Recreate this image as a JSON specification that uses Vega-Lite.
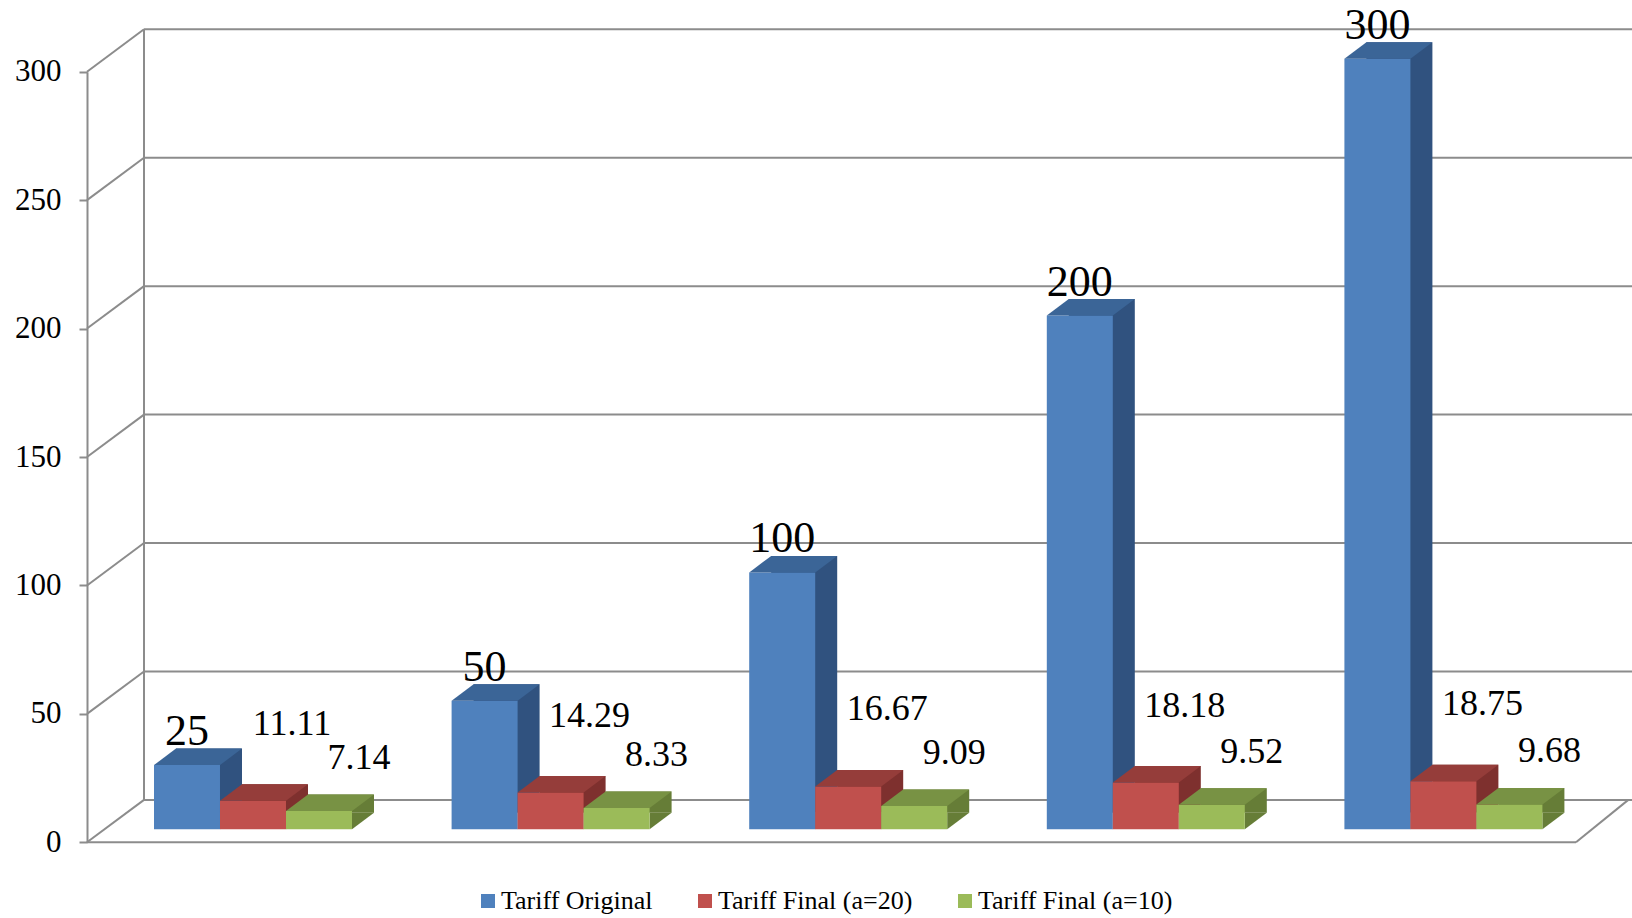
{
  "$schema": "https://vega.github.io/schema/vega-lite/v6.json",
  "width": 1545,
  "height": 918,
  "autosize": {"type": "none"},
  "padding": {"left": 87, "top": 0, "right": 0, "bottom": 0},
  "background": "white",
  "config": {"view": {"stroke": null}, "font": "Liberation Serif"},
  "datasets": {
    "tariffs": [
      {"case": 1, "series": "Tariff Original", "value": 25},
      {"case": 1, "series": "Tariff Final (a=20)", "value": 11.11},
      {"case": 1, "series": "Tariff Final (a=10)", "value": 7.14},
      {"case": 2, "series": "Tariff Original", "value": 50},
      {"case": 2, "series": "Tariff Final (a=20)", "value": 14.29},
      {"case": 2, "series": "Tariff Final (a=10)", "value": 8.33},
      {"case": 3, "series": "Tariff Original", "value": 100},
      {"case": 3, "series": "Tariff Final (a=20)", "value": 16.67},
      {"case": 3, "series": "Tariff Final (a=10)", "value": 9.09},
      {"case": 4, "series": "Tariff Original", "value": 200},
      {"case": 4, "series": "Tariff Final (a=20)", "value": 18.18},
      {"case": 4, "series": "Tariff Final (a=10)", "value": 9.52},
      {"case": 5, "series": "Tariff Original", "value": 300},
      {"case": 5, "series": "Tariff Final (a=20)", "value": 18.75},
      {"case": 5, "series": "Tariff Final (a=10)", "value": 9.68}
    ],
    "ticks": [
      {"tick": 0}, {"tick": 50}, {"tick": 100}, {"tick": 150},
      {"tick": 200}, {"tick": 250}, {"tick": 300}
    ],
    "one": [{}]
  },
  "layer": [
    {
      "data": {"name": "ticks"},
      "mark": {"type": "rule", "x": 57, "x2": "width", "yOffset": -42.4, "color": "#8c8c8c", "strokeWidth": 2},
      "encoding": {
        "y": {
          "field": "tick",
          "type": "quantitative",
          "scale": {"domain": [0, 300], "range": [842.3, 71.7], "nice": false, "zero": true},
          "axis": {
            "title": null,
            "values": [0, 50, 100, 150, 200, 250, 300],
            "grid": false,
            "tickSize": 8,
            "tickWidth": 2,
            "tickColor": "#8c8c8c",
            "domainColor": "#8c8c8c",
            "domainWidth": 2,
            "labelFont": "Liberation Serif",
            "labelFontSize": 31,
            "labelColor": "#000000",
            "labelPadding": 18
          }
        }
      }
    },
    {
      "data": {"name": "ticks"},
      "mark": {"type": "rule", "y2Offset": -42.4, "color": "#8c8c8c", "strokeWidth": 2},
      "encoding": {
        "x": {"value": 0},
        "x2": {"value": 57},
        "y": {"field": "tick", "type": "quantitative", "axis": {"title": null}},
        "y2": {"field": "tick"}
      }
    },
    {
      "data": {"name": "one"},
      "mark": {"type": "rule", "x": 57, "yOffset": -42.4, "y2Offset": -42.4, "color": "#8c8c8c", "strokeWidth": 2},
      "encoding": {
        "y": {"datum": 0, "type": "quantitative"},
        "y2": {"datum": 300}
      }
    },
    {
      "data": {"name": "one"},
      "mark": {"type": "rule", "x": 0, "x2": 1489, "color": "#8c8c8c", "strokeWidth": 2},
      "encoding": {
        "y": {"datum": 0, "type": "quantitative"}
      }
    },
    {
      "data": {"name": "one"},
      "mark": {"type": "rule", "y2Offset": -42.4, "color": "#8c8c8c", "strokeWidth": 2},
      "encoding": {
        "x": {"value": 1489},
        "x2": {"value": 1541.3},
        "y": {"datum": 0, "type": "quantitative"},
        "y2": {"datum": 0}
      }
    },
    {
      "data": {"name": "tariffs"},
      "mark": {"type": "bar", "yOffset": -29.5, "y2Offset": -29.5},
      "encoding": {
        "x": {"field": "case", "type": "nominal", "scale": {"range": [67, 1455.4], "paddingInner": 0.3347, "paddingOuter": 0}, "axis": null},
        "xOffset": {"field": "series", "type": "nominal", "scale": {"type": "band", "domain": ["Tariff Original", "Tariff Final (a=20)", "Tariff Final (a=10)"], "range": [22, 220], "paddingInner": 0, "paddingOuter": 0}},
        "y": {"field": "value", "type": "quantitative", "axis": {"title": null}},
        "color": {"field": "series", "type": "nominal", "scale": {"domain": ["Tariff Original", "Tariff Final (a=20)", "Tariff Final (a=10)"], "range": ["#30527f", "#7e302e", "#667d37"]}, "legend": null}
      }
    },
    {
      "data": {"name": "tariffs"},
      "mark": {"type": "point", "shape": "M33,0L33,-16.5L55,-16.5Z", "size": 4, "filled": true, "opacity": 1, "strokeWidth": 0, "yOffset": -13},
      "encoding": {
        "x": {"field": "case", "type": "nominal", "axis": null},
        "xOffset": {"field": "series", "type": "nominal", "scale": {"type": "band", "domain": ["Tariff Original", "Tariff Final (a=20)", "Tariff Final (a=10)"], "paddingInner": 0, "paddingOuter": 0}},
        "y": {"datum": 0, "type": "quantitative"},
        "color": {"field": "series", "type": "nominal", "scale": {"domain": ["Tariff Original", "Tariff Final (a=20)", "Tariff Final (a=10)"], "range": ["#30527f", "#7e302e", "#667d37"]}, "legend": null}
      }
    },
    {
      "data": {"name": "tariffs"},
      "mark": {"type": "bar", "yOffset": -13, "y2Offset": -13},
      "encoding": {
        "x": {"field": "case", "type": "nominal", "axis": null},
        "xOffset": {"field": "series", "type": "nominal", "scale": {"type": "band", "domain": ["Tariff Original", "Tariff Final (a=20)", "Tariff Final (a=10)"], "paddingInner": 0, "paddingOuter": 0}},
        "y": {"field": "value", "type": "quantitative", "axis": {"title": null}},
        "color": {
          "field": "series",
          "type": "nominal",
          "scale": {"domain": ["Tariff Original", "Tariff Final (a=20)", "Tariff Final (a=10)"], "range": ["#4f81bd", "#c0504d", "#9bbb59"]},
          "legend": {
            "title": null,
            "orient": "none",
            "legendX": 388,
            "legendY": 888,
            "direction": "horizontal",
            "symbolType": "square",
            "symbolSize": 196,
            "symbolStrokeWidth": 0,
            "labelFont": "Liberation Serif",
            "labelFontSize": 26,
            "labelColor": "#000000",
            "labelOffset": 0,
            "labelLimit": 0,
            "columnPadding": 39,
            "padding": 0
          }
        }
      }
    },
    {
      "data": {"name": "tariffs"},
      "mark": {"type": "point", "shape": "M-33,0L33,0L55,-16.5L-11,-16.5Z", "size": 4, "filled": true, "opacity": 1, "strokeWidth": 0, "yOffset": -13},
      "encoding": {
        "x": {"field": "case", "type": "nominal", "axis": null},
        "xOffset": {"field": "series", "type": "nominal", "scale": {"type": "band", "domain": ["Tariff Original", "Tariff Final (a=20)", "Tariff Final (a=10)"], "paddingInner": 0, "paddingOuter": 0}},
        "y": {"field": "value", "type": "quantitative", "axis": {"title": null}},
        "color": {"field": "series", "type": "nominal", "scale": {"domain": ["Tariff Original", "Tariff Final (a=20)", "Tariff Final (a=10)"], "range": ["#3b6597", "#953d3a", "#789244"]}, "legend": null}
      }
    },
    {
      "data": {"name": "tariffs"},
      "transform": [{"filter": "datum.series === 'Tariff Original'"}],
      "mark": {"type": "text", "yOffset": -13, "dy": -20, "baseline": "alphabetic", "align": "center", "font": "Liberation Serif", "fontSize": 44, "color": "#000000"},
      "encoding": {
        "x": {"field": "case", "type": "nominal", "axis": null},
        "xOffset": {"field": "series", "type": "nominal", "scale": {"type": "band", "domain": ["Tariff Original", "Tariff Final (a=20)", "Tariff Final (a=10)"], "paddingInner": 0, "paddingOuter": 0}},
        "y": {"field": "value", "type": "quantitative", "axis": {"title": null}},
        "text": {"field": "value", "type": "quantitative"}
      }
    },
    {
      "data": {"name": "tariffs"},
      "transform": [{"filter": "datum.series === 'Tariff Final (a=20)'"}],
      "mark": {"type": "text", "yOffset": -13, "dx": 39, "dy": -66, "baseline": "alphabetic", "align": "center", "font": "Liberation Serif", "fontSize": 36, "color": "#000000"},
      "encoding": {
        "x": {"field": "case", "type": "nominal", "axis": null},
        "xOffset": {"field": "series", "type": "nominal", "scale": {"type": "band", "domain": ["Tariff Original", "Tariff Final (a=20)", "Tariff Final (a=10)"], "paddingInner": 0, "paddingOuter": 0}},
        "y": {"field": "value", "type": "quantitative", "axis": {"title": null}},
        "text": {"field": "value", "type": "quantitative"}
      }
    },
    {
      "data": {"name": "tariffs"},
      "transform": [{"filter": "datum.series === 'Tariff Final (a=10)'"}],
      "mark": {"type": "text", "yOffset": -13, "dx": 40, "dy": -42, "baseline": "alphabetic", "align": "center", "font": "Liberation Serif", "fontSize": 36, "color": "#000000"},
      "encoding": {
        "x": {"field": "case", "type": "nominal", "axis": null},
        "xOffset": {"field": "series", "type": "nominal", "scale": {"type": "band", "domain": ["Tariff Original", "Tariff Final (a=20)", "Tariff Final (a=10)"], "paddingInner": 0, "paddingOuter": 0}},
        "y": {"field": "value", "type": "quantitative", "axis": {"title": null}},
        "text": {"field": "value", "type": "quantitative"}
      }
    }
  ],
  "resolve": {"scale": {"color": "independent", "xOffset": "independent"}}
}
